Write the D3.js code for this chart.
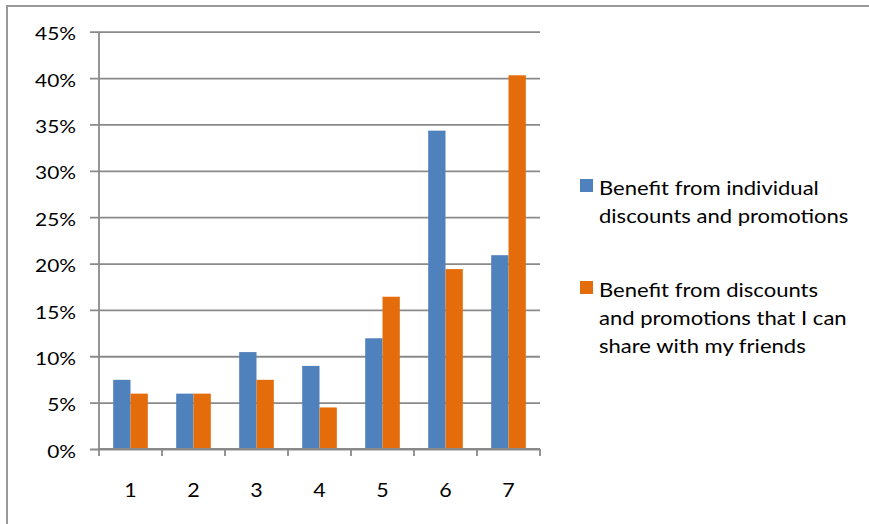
<!DOCTYPE html>
<html>
<head>
<meta charset="utf-8">
<script src="https://cdn.jsdelivr.net/npm/d3@7"></script>
<style>
  html, body { margin: 0; padding: 0; background: #fff; }
  svg { display: block; }
  text { font-family: Lato, "Open Sans", sans-serif; fill: #000; }
</style>
</head>
<body>
<svg id="chart" width="869" height="524"></svg>
<script>
// Rating scale 1–7 and share of respondents per rating
const categories = ["1", "2", "3", "4", "5", "6", "7"];
const individualDiscounts = [7.46, 5.97, 10.45, 8.96, 11.94, 34.33, 20.90];
const sharedDiscounts = [5.97, 5.97, 7.46, 4.48, 16.42, 19.40, 40.30];
const yTickValues = [0, 5, 10, 15, 20, 25, 30, 35, 40, 45];
const seriesNames = [
  ["Benefit from individual", "discounts and promotions"],
  ["Benefit from discounts", "and promotions that I can", "share with my friends"]
];
const seriesColors = ["#4F81BD", "#E46C0A"];

// text is drawn slightly wide, like the office chart font
const stretch = 1.16;

const svg = d3.select("#chart");

// outer chart frame
svg.append("rect")
  .attr("x", 7).attr("y", 6)
  .attr("width", 880).attr("height", 540)
  .attr("fill", "none")
  .attr("stroke", "#999")
  .attr("stroke-width", 2);

const plot = { left: 99, right: 540, top: 31.7, bottom: 449 };

const x = d3.scaleBand()
  .domain(categories)
  .range([plot.left, plot.right])
  .paddingInner(0).paddingOuter(0);

const xInner = d3.scaleBand()
  .domain([0, 1])
  .range([0, x.bandwidth()])
  .paddingInner(0).paddingOuter(0.82);

const y = d3.scaleLinear()
  .domain([0, 45])
  .range([plot.bottom, plot.top]);

// horizontal gridlines + y axis
const yAxis = d3.axisLeft(y)
  .tickValues(yTickValues)
  .tickSize(-(plot.right - plot.left))
  .tickFormat(d => d + "%");

const gy = svg.append("g")
  .attr("transform", `translate(${plot.left},0)`)
  .call(yAxis);
gy.select(".domain").remove();
gy.selectAll(".tick line")
  .attr("x1", -9)
  .attr("stroke", "#8a8a8a")
  .attr("stroke-width", 1.8);
gy.selectAll(".tick text")
  .attr("x", 0)
  .attr("transform", `translate(-23,0) scale(${stretch},1)`)
  .attr("dy", "0.45em")
  .style("font-size", "18px")
  .style("font-family", "Lato, sans-serif")
  .attr("fill", "#000");

// bars
const seriesData = [individualDiscounts, sharedDiscounts];
const groups = svg.append("g").selectAll("g")
  .data(categories)
  .join("g")
  .attr("transform", d => `translate(${x(d)},0)`);

groups.selectAll("rect")
  .data((d, i) => seriesData.map((s, k) => ({ k, v: s[i] })))
  .join("rect")
  .attr("x", d => xInner(d.k))
  .attr("width", xInner.bandwidth())
  .attr("y", d => y(d.v))
  .attr("height", d => y(0) - y(d.v))
  .attr("fill", d => seriesColors[d.k]);

// vertical axis line
svg.append("line")
  .attr("x1", plot.left).attr("x2", plot.left)
  .attr("y1", plot.top).attr("y2", plot.bottom)
  .attr("stroke", "#8a8a8a").attr("stroke-width", 1.8);

// x axis with tick marks on category boundaries
svg.append("line")
  .attr("x1", plot.left).attr("x2", plot.right)
  .attr("y1", plot.bottom).attr("y2", plot.bottom)
  .attr("stroke", "#8a8a8a").attr("stroke-width", 1.8);

const boundaries = categories.map(c => x(c)).concat([plot.right]);
svg.append("g").selectAll("line")
  .data(boundaries)
  .join("line")
  .attr("x1", d => d).attr("x2", d => d)
  .attr("y1", plot.bottom).attr("y2", plot.bottom + 7)
  .attr("stroke", "#8a8a8a").attr("stroke-width", 1.8);

svg.append("g").selectAll("text")
  .data(categories)
  .join("text")
  .attr("transform", d => `translate(${x(d) + x.bandwidth() / 2},497) scale(${stretch},1)`)
  .attr("text-anchor", "middle")
  .style("font-size", "18.5px")
  .text(d => d);

// legend
const legendTops = [179, 281];
const legend = svg.append("g").selectAll("g")
  .data(seriesNames)
  .join("g")
  .attr("transform", (d, i) => `translate(580,${legendTops[i]})`);

legend.append("rect")
  .attr("width", 13).attr("height", 13)
  .attr("fill", (d, i) => seriesColors[i]);

legend.append("text")
  .attr("transform", `translate(19,0) scale(${stretch},1)`)
  .style("font-size", "19px")
  .selectAll("tspan")
  .data(d => d)
  .join("tspan")
  .attr("x", 0)
  .attr("y", (d, j) => 16 + j * 28)
  .text(d => d);
</script>
</body>
</html>
